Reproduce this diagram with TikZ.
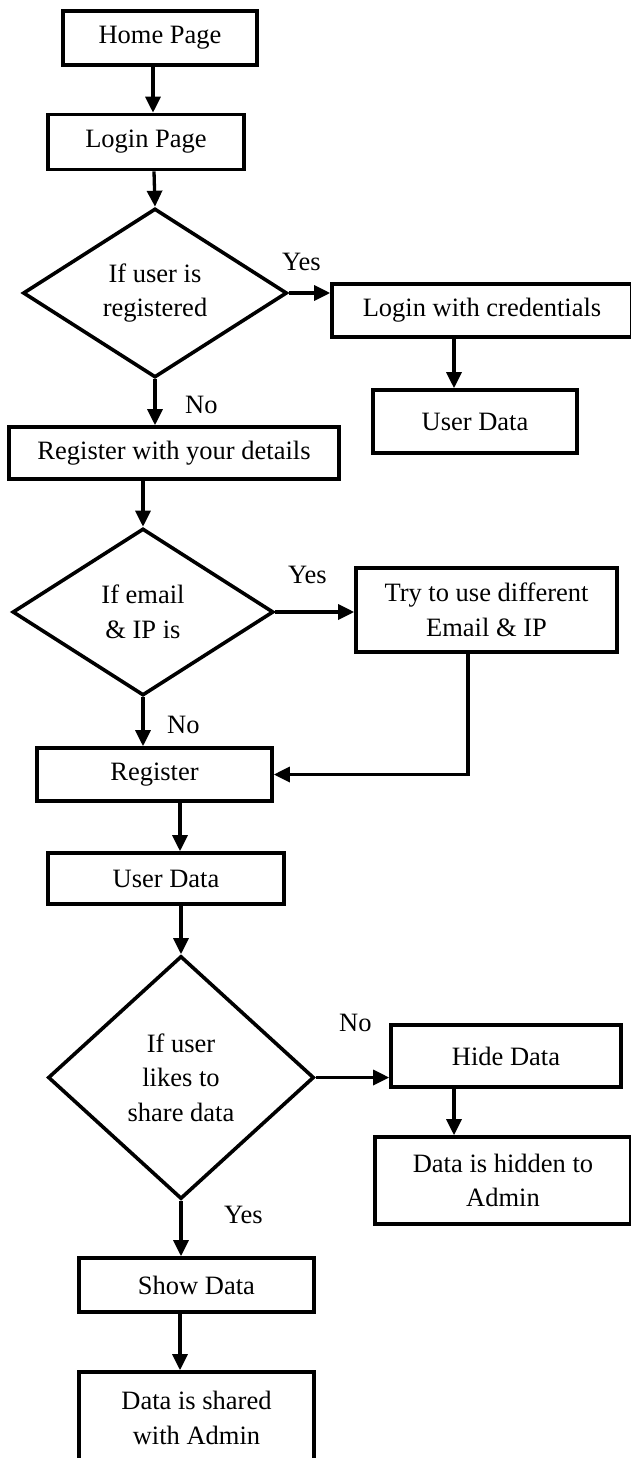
\documentclass[tikz,border=0pt]{standalone}
\usepackage{fontspec}
\setmainfont{Liberation Serif}
\usetikzlibrary{arrows.meta, shapes.geometric}

\begin{document}
\begin{tikzpicture}[x=1pt, y=-1pt,
    every node/.style={font=\fontsize{26.5}{34.5}\selectfont},
    box/.style={draw, line width=3.6pt, inner sep=0pt, align=center},
    decision/.style={draw, diamond, line width=3.6pt, inner sep=0pt, align=center},
    arr/.style={line width=3.3pt, -{Triangle[length=16pt, width=15pt]}},
    lbl/.style={anchor=base west, inner sep=0pt}]
    \fill[white] (0,0) rectangle (630,1458);
    \useasboundingbox (0,0) rectangle (630,1458);

    % 登录
    \node[box, minimum width=194pt, minimum height=54pt] (home) at (160,38) {Home Page};
    \node[box, minimum width=196pt, minimum height=55pt] (login) at (146,142) {Login Page};
    \node[decision, minimum width=264pt, minimum height=169pt] (isreg) at (155,293) {If user is\\registered};
    \node[box, minimum width=300pt, minimum height=53pt] (logcred) at (482,310.5) {Login with credentials};
    \node[box, minimum width=204pt, minimum height=63pt] (udata1) at (475,421.5) {User Data};
    \node[lbl] (yes1) at (282,270) {Yes};
    \node[lbl] (no1) at (185,413) {No};

    \draw[arr] ([xshift=-7pt]home.south) -- ([xshift=7pt]login.north);
    \draw[arr] ([xshift=8pt]login.south) -- (isreg.north);
    \draw[arr] (isreg.east) -- (isreg.east -| logcred.west);
    \draw[arr] ([xshift=-28pt]logcred.south) -- ([xshift=-21pt]udata1.north);

    % 注册
    \node[box, minimum width=330pt, minimum height=52pt] (regdet) at (174,453) {Register with your details};
    \node[decision, minimum width=261pt, minimum height=167pt] (isused) at (143,612) {If email\\\& IP is};
    \node[box, minimum width=261pt, minimum height=84pt] (retry) at (486.5,610) {Try to use different\\Email \& IP};
    \node[box, minimum width=235pt, minimum height=53pt] (register) at (154.5,774.5) {Register};
    \node[box, minimum width=236pt, minimum height=51pt] (udata2) at (166,878.5) {User Data};
    \node[lbl] (yes2) at (288,583) {Yes};
    \node[lbl] (no2) at (167,733) {No};

    \draw[arr] (isreg.south) -- (isreg.south |- regdet.north);
    \draw[arr] (regdet.south -| isused.north) -- (isused.north);
    \draw[arr] (isused.east) -- (isused.east -| retry.west);
    \draw[arr] (isused.south) -- (isused.south |- register.north);
    \draw[arr] ([xshift=-18.5pt]retry.south) |- (register.east);
    \draw[arr] ([xshift=25.5pt]register.south) -- ([xshift=14pt]udata2.north);

    % 数据共享
    \node[decision, minimum width=266pt, minimum height=243pt] (share) at (181,1077.5) {If user\\likes to\\share data};
    \node[box, minimum width=230pt, minimum height=62pt] (hide) at (506,1056) {Hide Data};
    \node[box, minimum width=256pt, minimum height=87pt] (hidden) at (503,1180.5) {Data is hidden to\\Admin};
    \node[box, minimum width=235pt, minimum height=54pt] (show) at (196.5,1285) {Show Data};
    \node[box, minimum width=235pt, minimum height=92pt] (shared) at (196.5,1418) {Data is shared\\with Admin};
    \node[lbl] (no3) at (339,1031) {No};
    \node[lbl] (yes3) at (224,1223) {Yes};

    \draw[arr] (udata2.south -| share.north) -- (share.north);
    \draw[arr] (share.east) -- (share.east -| hide.west);
    \draw[arr] ([xshift=-52pt]hide.south) -- ([xshift=-49pt]hidden.north);
    \draw[arr] (share.south) -- (share.south |- show.north);
    \draw[arr] ([xshift=-16.5pt]show.south) -- ([xshift=-16.5pt]shared.north);
\end{tikzpicture}
\end{document}
